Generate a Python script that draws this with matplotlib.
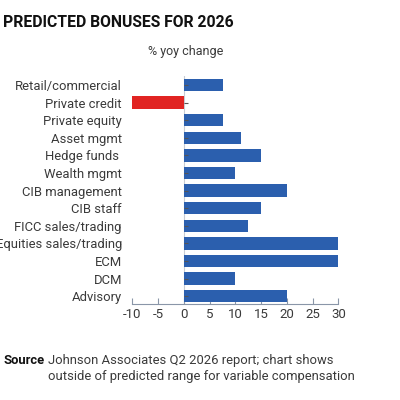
import matplotlib
matplotlib.use("Agg")
import matplotlib.pyplot as plt
import numpy as np

categories = ["Retail/commercial", "Private credit", "Private equity", "Asset mgmt",
              "Hedge funds ", "Wealth mgmt", "CIB management", "CIB staff",
              "FICC sales/trading", "Equities sales/trading", "ECM", "DCM", "Advisory"]
values = [7.5, -10, 7.5, 11, 15, 10, 20, 15, 12.5, 30, 30, 10, 20]
xticks = [-10, -5, 0, 5, 10, 15, 20, 25, 30]

BLUE = "#2b5fae"
RED = "#e12422"
FONT = "Roboto"
TXT = "#3a3a3a"

fig = plt.figure(figsize=(4, 4), dpi=100)
ax = fig.add_axes([0.331, 0.239, 0.515, 0.5705])

y = np.arange(len(categories))
colors = [RED if v < 0 else BLUE for v in values]
ax.barh(y, values, height=0.7, color=colors, zorder=2)
ax.axvline(0, color="#c8ccd4", lw=0.8, zorder=1)
ax.plot(np.zeros(len(categories)), y, ls="none", marker=1, markersize=3,
        color="#555555", markeredgewidth=0.8, zorder=3)

ax.set_ylim(len(categories) - 1 + 0.47, -0.5)
ax.set_xlim(-10, 30)
ax.set_xticks(xticks)
ax.set_xticklabels([str(t) for t in xticks], fontfamily=FONT, fontsize=9.5, color=TXT)
ax.set_yticks(y)
ax.set_yticklabels(categories, fontfamily=FONT, fontsize=9.4, color=TXT)
ax.tick_params(axis="y", length=0, pad=7.5)
ax.tick_params(axis="x", direction="in", length=4, width=0.8, color="#8a96a8", pad=2.5)
for s in ["top", "right", "left"]:
    ax.spines[s].set_visible(False)
ax.spines["bottom"].set_color("#8a96a8")
ax.spines["bottom"].set_linewidth(0.8)

fig.text(0.008, 0.943, "PREDICTED BONUSES FOR 2026", fontfamily="Roboto", fontweight="bold",
         fontsize=11.3, color="#111111", va="center", ha="left")
fig.text(0.465, 0.871, "% yoy change", fontfamily=FONT, fontsize=9, color=TXT,
         va="center", ha="center")
fig.text(0.008, 0.098, "Source", fontfamily=FONT, fontweight="bold", fontsize=9.4,
         color="#111111", va="center", ha="left")
fig.text(0.12, 0.098, "Johnson Associates Q2 2026 report; chart shows", fontfamily=FONT,
         fontsize=9.4, color=TXT, va="center", ha="left")
fig.text(0.12, 0.058, "outside of predicted range for variable compensation", fontfamily=FONT,
         fontsize=9.4, color=TXT, va="center", ha="left")

fig.savefig("out.png", dpi=100, facecolor="white")
